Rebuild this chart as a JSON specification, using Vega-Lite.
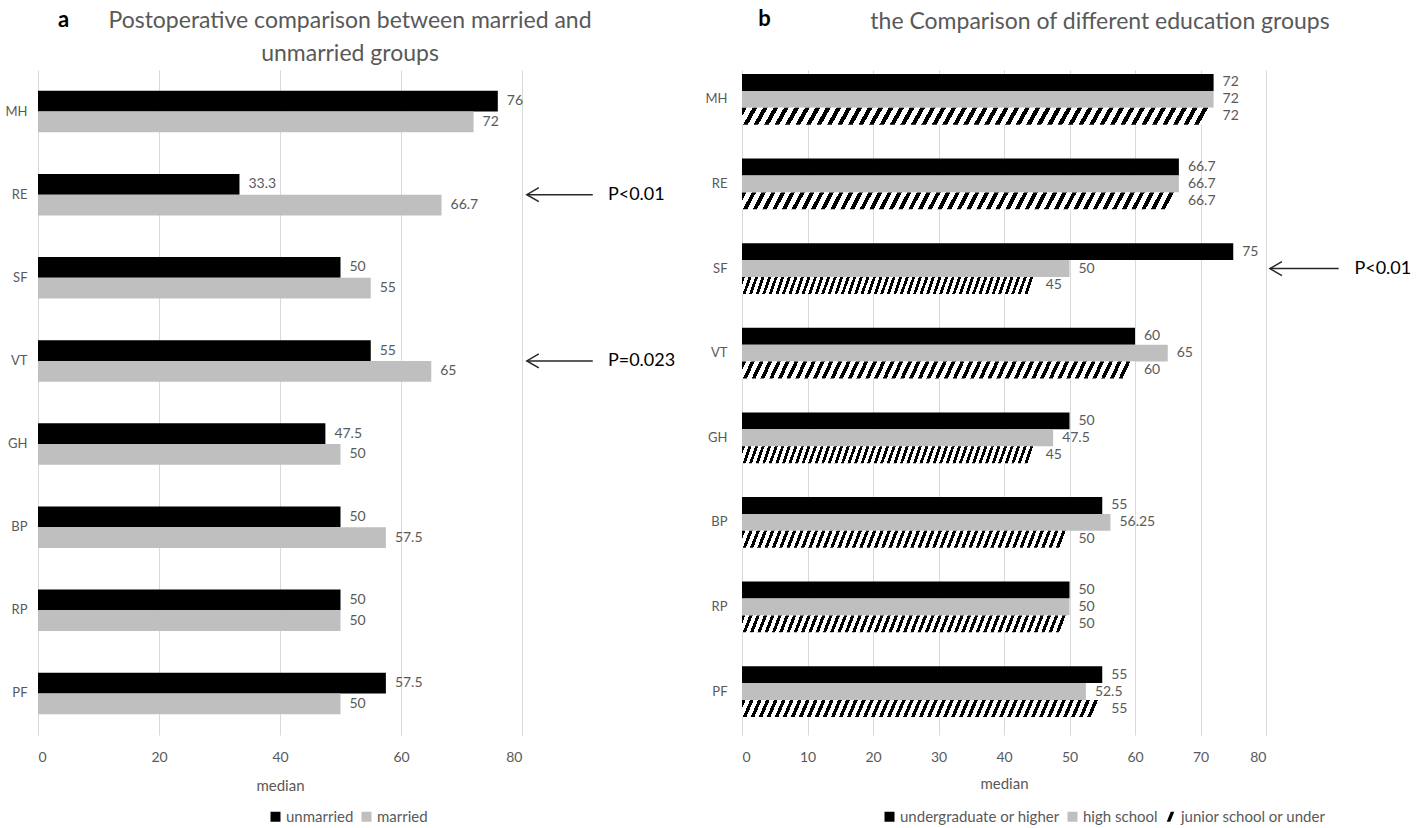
{
  "$schema": "https://vega.github.io/schema/vega-lite/v6.json",
  "background": "white",
  "padding": {"left": 5, "top": 7, "right": 0, "bottom": 0},
  "spacing": 29,
  "resolve": {"scale": {"color": "independent", "shape": "independent"}},
  "config": {
    "font": "Lato",
    "view": {"stroke": null},
    "axis": {"domain": false, "ticks": false, "labelColor": "#595959", "labelFontSize": 14, "titleColor": "#595959", "titleFontWeight": "normal", "gridColor": "#d9d9d9", "gridWidth": 1},
    "title": {"color": "#595959", "fontSize": 23, "fontWeight": "normal", "lineHeight": 33},
    "legend": {"symbolType": "square", "symbolSize": 100, "labelFontSize": 15, "labelColor": "#595959", "columnPadding": 5, "symbolStrokeWidth": 0, "labelOffset": 3}
  },
  "hconcat": [
    {
      "width": 484,
      "height": 665,
      "title": {"text": ["Postoperative comparison between married and", "unmarried groups"], "anchor": "middle", "frame": "group", "dx": 70, "offset": -58},
      "data": {"values": [
        {"metric": "MH", "group": "unmarried", "row": "MH|a", "value": 76},
        {"metric": "MH", "group": "married", "row": "MH|b", "value": 72},
        {"metric": "RE", "group": "unmarried", "row": "RE|a", "value": 33.3},
        {"metric": "RE", "group": "married", "row": "RE|b", "value": 66.7},
        {"metric": "SF", "group": "unmarried", "row": "SF|a", "value": 50},
        {"metric": "SF", "group": "married", "row": "SF|b", "value": 55},
        {"metric": "VT", "group": "unmarried", "row": "VT|a", "value": 55},
        {"metric": "VT", "group": "married", "row": "VT|b", "value": 65},
        {"metric": "GH", "group": "unmarried", "row": "GH|a", "value": 47.5},
        {"metric": "GH", "group": "married", "row": "GH|b", "value": 50},
        {"metric": "BP", "group": "unmarried", "row": "BP|a", "value": 50},
        {"metric": "BP", "group": "married", "row": "BP|b", "value": 57.5},
        {"metric": "RP", "group": "unmarried", "row": "RP|a", "value": 50},
        {"metric": "RP", "group": "married", "row": "RP|b", "value": 50},
        {"metric": "PF", "group": "unmarried", "row": "PF|a", "value": 57.5},
        {"metric": "PF", "group": "married", "row": "PF|b", "value": 50}
      ]},
      "layer": [
        {
          "mark": {"type": "bar", "height": {"band": 1}},
          "encoding": {
            "y": {"field": "row", "type": "nominal",
                  "scale": {"domain": ["MH|s1", "MH|a", "MH|b", "MH|s2", "RE|s1", "RE|a", "RE|b", "RE|s2", "SF|s1", "SF|a", "SF|b", "SF|s2", "VT|s1", "VT|a", "VT|b", "VT|s2", "GH|s1", "GH|a", "GH|b", "GH|s2", "BP|s1", "BP|a", "BP|b", "BP|s2", "RP|s1", "RP|a", "RP|b", "RP|s2", "PF|s1", "PF|a", "PF|b", "PF|s2"], "paddingInner": 0, "paddingOuter": 0},
                  "axis": {"title": "a", "titleAngle": 0, "titleX": 25, "titleY": -51, "titleAlign": "center", "titleBaseline": "middle", "titleFontSize": 22, "titleFontWeight": "bold", "titleColor": "#000000", "labelPadding": 11, "labelFontSize": 13, "labelOffset": 10.4, "labelExpr": "indexof(datum.value, '|a') > 0 ? split(datum.value, '|')[0] : ''", "grid": false}},
            "x": {"field": "value", "type": "quantitative", "scale": {"domain": [0, 80], "nice": false},
                  "axis": {"values": [0, 20, 40, 60, 80], "title": "median", "titleFontSize": 15, "labelPadding": 15, "titlePadding": 14, "grid": true}},
            "color": {"field": "group", "type": "nominal",
                      "scale": {"domain": ["unmarried", "married"], "range": ["#000000", "#bfbfbf"]},
                      "legend": {"title": null, "orient": "none", "legendX": 230, "legendY": 739, "direction": "horizontal"}}
          }
        },
        {
          "mark": {"type": "text", "align": "left", "baseline": "middle", "dx": 9, "fontSize": 14, "color": "#595959"},
          "encoding": {
            "y": {"field": "row", "type": "nominal"},
            "x": {"field": "value", "type": "quantitative"},
            "text": {"field": "value", "type": "quantitative", "format": "~g"}
          }
        },
        {
          "data": {"values": [
            {"row": "RE|a", "x1": 80.8, "x2": 91.7, "xt": 94.2, "p": "P<0.01"},
            {"row": "VT|a", "x1": 80.8, "x2": 91.7, "xt": 94.2, "p": "P=0.023"}
          ]},
          "layer": [
            {"mark": {"type": "rule", "color": "#262626", "strokeWidth": 1.5},
             "encoding": {"x": {"field": "x1", "type": "quantitative"}, "x2": {"field": "x2"}, "y": {"field": "row", "type": "nominal", "bandPosition": 1}}},
            {"mark": {"type": "point", "shape": "M1.2,-0.7L0,0L1.2,0.7", "size": 400, "filled": false, "color": "#262626", "strokeWidth": 1.5, "opacity": 1},
             "encoding": {"x": {"field": "x1", "type": "quantitative"}, "y": {"field": "row", "type": "nominal", "bandPosition": 1}}},
            {"mark": {"type": "text", "align": "left", "baseline": "middle", "fontSize": 18, "color": "#000000"},
             "encoding": {"x": {"field": "xt", "type": "quantitative"}, "y": {"field": "row", "type": "nominal", "bandPosition": 1}, "text": {"field": "p"}}}
          ]
        }
      ]
    },
    {
      "width": 524,
      "height": 665,
      "title": {"text": "the Comparison of different education groups", "anchor": "middle", "frame": "group", "dx": 96, "offset": -27},
      "data": {"values": [
        {"metric": "MH", "group": "undergraduate or higher", "row": "MH|a", "value": 72},
        {"metric": "MH", "group": "high school", "row": "MH|b", "value": 72},
        {"metric": "MH", "group": "junior school or under", "row": "MH|c", "value": 72},
        {"metric": "RE", "group": "undergraduate or higher", "row": "RE|a", "value": 66.7},
        {"metric": "RE", "group": "high school", "row": "RE|b", "value": 66.7},
        {"metric": "RE", "group": "junior school or under", "row": "RE|c", "value": 66.7},
        {"metric": "SF", "group": "undergraduate or higher", "row": "SF|a", "value": 75},
        {"metric": "SF", "group": "high school", "row": "SF|b", "value": 50},
        {"metric": "SF", "group": "junior school or under", "row": "SF|c", "value": 45},
        {"metric": "VT", "group": "undergraduate or higher", "row": "VT|a", "value": 60},
        {"metric": "VT", "group": "high school", "row": "VT|b", "value": 65},
        {"metric": "VT", "group": "junior school or under", "row": "VT|c", "value": 60},
        {"metric": "GH", "group": "undergraduate or higher", "row": "GH|a", "value": 50},
        {"metric": "GH", "group": "high school", "row": "GH|b", "value": 47.5},
        {"metric": "GH", "group": "junior school or under", "row": "GH|c", "value": 45},
        {"metric": "BP", "group": "undergraduate or higher", "row": "BP|a", "value": 55},
        {"metric": "BP", "group": "high school", "row": "BP|b", "value": 56.25},
        {"metric": "BP", "group": "junior school or under", "row": "BP|c", "value": 50},
        {"metric": "RP", "group": "undergraduate or higher", "row": "RP|a", "value": 50},
        {"metric": "RP", "group": "high school", "row": "RP|b", "value": 50},
        {"metric": "RP", "group": "junior school or under", "row": "RP|c", "value": 50},
        {"metric": "PF", "group": "undergraduate or higher", "row": "PF|a", "value": 55},
        {"metric": "PF", "group": "high school", "row": "PF|b", "value": 52.5},
        {"metric": "PF", "group": "junior school or under", "row": "PF|c", "value": 55}
      ]},
      "layer": [
        {
          "mark": {"type": "point", "filled": true, "opacity": 0},
          "encoding": {
            "y": {"field": "row", "type": "nominal",
                  "scale": {"domain": ["MH|a", "MH|b", "MH|c", "MH|s1", "MH|s2", "RE|a", "RE|b", "RE|c", "RE|s1", "RE|s2", "SF|a", "SF|b", "SF|c", "SF|s1", "SF|s2", "VT|a", "VT|b", "VT|c", "VT|s1", "VT|s2", "GH|a", "GH|b", "GH|c", "GH|s1", "GH|s2", "BP|a", "BP|b", "BP|c", "BP|s1", "BP|s2", "RP|a", "RP|b", "RP|c", "RP|s1", "RP|s2", "PF|a", "PF|b", "PF|c"], "paddingInner": 0, "paddingOuter": 0.65, "align": 0.18},
                  "axis": {"title": "b", "titleAngle": 0, "titleX": 22, "titleY": -52, "titleAlign": "center", "titleBaseline": "middle", "titleFontSize": 22, "titleFontWeight": "bold", "titleColor": "#000000", "labelPadding": 15, "labelFontSize": 13, "labelExpr": "indexof(datum.value, '|b') > 0 ? split(datum.value, '|')[0] : ''", "grid": false}},
            "x": {"field": "value", "type": "quantitative", "scale": {"domain": [0, 80], "nice": false},
                  "axis": {"values": [0, 10, 20, 30, 40, 50, 60, 70, 80], "title": "median", "titleFontSize": 15, "labelPadding": 15, "titlePadding": 12, "grid": true}},
            "color": {"field": "group", "type": "nominal",
                      "scale": {"domain": ["undergraduate or higher", "high school", "junior school or under"], "range": ["#000000", "#bfbfbf", "#000000"]},
                      "legend": {"title": null, "orient": "none", "legendX": 140, "legendY": 739, "direction": "horizontal", "symbolOpacity": 1}},
            "shape": {"field": "group", "type": "nominal",
                      "scale": {"domain": ["undergraduate or higher", "high school", "junior school or under"], "range": ["square", "square", "M-0.75,1L0.05,-1L0.75,-1L-0.05,1Z"]},
                      "legend": {"title": null, "orient": "none", "legendX": 140, "legendY": 739, "direction": "horizontal", "symbolOpacity": 1}}
          }
        },
        {
          "transform": [{"filter": "datum.group === 'undergraduate or higher'"}],
          "mark": {"type": "bar", "height": {"band": 1}, "color": "#000000"},
          "encoding": {
            "y": {"field": "row", "type": "nominal"},
            "x": {"field": "value", "type": "quantitative"}
          }
        },
        {
          "transform": [{"filter": "datum.group === 'high school'"}],
          "mark": {"type": "bar", "height": {"band": 1}, "color": "#bfbfbf"},
          "encoding": {
            "y": {"field": "row", "type": "nominal"},
            "x": {"field": "value", "type": "quantitative"}
          }
        },
        {
          "transform": [{"filter": "datum.group === 'junior school or under'"}],
          "mark": {"type": "bar", "height": {"band": 1},
                   "fill": {"gradient": "linear", "x1": 0, "y1": 0, "x2": 1, "y2": 0.02, "stops": [
                                    {"offset": 0, "color": "#000"}, {"offset": 0.01, "color": "#000"}, {"offset": 0.01, "color": "#fff"}, {"offset": 0.0222, "color": "#fff"},
                                    {"offset": 0.0222, "color": "#000"}, {"offset": 0.0322, "color": "#000"}, {"offset": 0.0322, "color": "#fff"}, {"offset": 0.0444, "color": "#fff"},
                                    {"offset": 0.0444, "color": "#000"}, {"offset": 0.0544, "color": "#000"}, {"offset": 0.0544, "color": "#fff"}, {"offset": 0.0667, "color": "#fff"},
                                    {"offset": 0.0667, "color": "#000"}, {"offset": 0.0767, "color": "#000"}, {"offset": 0.0767, "color": "#fff"}, {"offset": 0.0889, "color": "#fff"},
                                    {"offset": 0.0889, "color": "#000"}, {"offset": 0.0989, "color": "#000"}, {"offset": 0.0989, "color": "#fff"}, {"offset": 0.1111, "color": "#fff"},
                                    {"offset": 0.1111, "color": "#000"}, {"offset": 0.1211, "color": "#000"}, {"offset": 0.1211, "color": "#fff"}, {"offset": 0.1333, "color": "#fff"},
                                    {"offset": 0.1333, "color": "#000"}, {"offset": 0.1433, "color": "#000"}, {"offset": 0.1433, "color": "#fff"}, {"offset": 0.1556, "color": "#fff"},
                                    {"offset": 0.1556, "color": "#000"}, {"offset": 0.1656, "color": "#000"}, {"offset": 0.1656, "color": "#fff"}, {"offset": 0.1778, "color": "#fff"},
                                    {"offset": 0.1778, "color": "#000"}, {"offset": 0.1878, "color": "#000"}, {"offset": 0.1878, "color": "#fff"}, {"offset": 0.2, "color": "#fff"},
                                    {"offset": 0.2, "color": "#000"}, {"offset": 0.21, "color": "#000"}, {"offset": 0.21, "color": "#fff"}, {"offset": 0.2222, "color": "#fff"},
                                    {"offset": 0.2222, "color": "#000"}, {"offset": 0.2322, "color": "#000"}, {"offset": 0.2322, "color": "#fff"}, {"offset": 0.2444, "color": "#fff"},
                                    {"offset": 0.2444, "color": "#000"}, {"offset": 0.2544, "color": "#000"}, {"offset": 0.2544, "color": "#fff"}, {"offset": 0.2667, "color": "#fff"},
                                    {"offset": 0.2667, "color": "#000"}, {"offset": 0.2767, "color": "#000"}, {"offset": 0.2767, "color": "#fff"}, {"offset": 0.2889, "color": "#fff"},
                                    {"offset": 0.2889, "color": "#000"}, {"offset": 0.2989, "color": "#000"}, {"offset": 0.2989, "color": "#fff"}, {"offset": 0.3111, "color": "#fff"},
                                    {"offset": 0.3111, "color": "#000"}, {"offset": 0.3211, "color": "#000"}, {"offset": 0.3211, "color": "#fff"}, {"offset": 0.3333, "color": "#fff"},
                                    {"offset": 0.3333, "color": "#000"}, {"offset": 0.3433, "color": "#000"}, {"offset": 0.3433, "color": "#fff"}, {"offset": 0.3556, "color": "#fff"},
                                    {"offset": 0.3556, "color": "#000"}, {"offset": 0.3656, "color": "#000"}, {"offset": 0.3656, "color": "#fff"}, {"offset": 0.3778, "color": "#fff"},
                                    {"offset": 0.3778, "color": "#000"}, {"offset": 0.3878, "color": "#000"}, {"offset": 0.3878, "color": "#fff"}, {"offset": 0.4, "color": "#fff"},
                                    {"offset": 0.4, "color": "#000"}, {"offset": 0.41, "color": "#000"}, {"offset": 0.41, "color": "#fff"}, {"offset": 0.4222, "color": "#fff"},
                                    {"offset": 0.4222, "color": "#000"}, {"offset": 0.4322, "color": "#000"}, {"offset": 0.4322, "color": "#fff"}, {"offset": 0.4444, "color": "#fff"},
                                    {"offset": 0.4444, "color": "#000"}, {"offset": 0.4544, "color": "#000"}, {"offset": 0.4544, "color": "#fff"}, {"offset": 0.4667, "color": "#fff"},
                                    {"offset": 0.4667, "color": "#000"}, {"offset": 0.4767, "color": "#000"}, {"offset": 0.4767, "color": "#fff"}, {"offset": 0.4889, "color": "#fff"},
                                    {"offset": 0.4889, "color": "#000"}, {"offset": 0.4989, "color": "#000"}, {"offset": 0.4989, "color": "#fff"}, {"offset": 0.5111, "color": "#fff"},
                                    {"offset": 0.5111, "color": "#000"}, {"offset": 0.5211, "color": "#000"}, {"offset": 0.5211, "color": "#fff"}, {"offset": 0.5333, "color": "#fff"},
                                    {"offset": 0.5333, "color": "#000"}, {"offset": 0.5433, "color": "#000"}, {"offset": 0.5433, "color": "#fff"}, {"offset": 0.5556, "color": "#fff"},
                                    {"offset": 0.5556, "color": "#000"}, {"offset": 0.5656, "color": "#000"}, {"offset": 0.5656, "color": "#fff"}, {"offset": 0.5778, "color": "#fff"},
                                    {"offset": 0.5778, "color": "#000"}, {"offset": 0.5878, "color": "#000"}, {"offset": 0.5878, "color": "#fff"}, {"offset": 0.6, "color": "#fff"},
                                    {"offset": 0.6, "color": "#000"}, {"offset": 0.61, "color": "#000"}, {"offset": 0.61, "color": "#fff"}, {"offset": 0.6222, "color": "#fff"},
                                    {"offset": 0.6222, "color": "#000"}, {"offset": 0.6322, "color": "#000"}, {"offset": 0.6322, "color": "#fff"}, {"offset": 0.6444, "color": "#fff"},
                                    {"offset": 0.6444, "color": "#000"}, {"offset": 0.6544, "color": "#000"}, {"offset": 0.6544, "color": "#fff"}, {"offset": 0.6667, "color": "#fff"},
                                    {"offset": 0.6667, "color": "#000"}, {"offset": 0.6767, "color": "#000"}, {"offset": 0.6767, "color": "#fff"}, {"offset": 0.6889, "color": "#fff"},
                                    {"offset": 0.6889, "color": "#000"}, {"offset": 0.6989, "color": "#000"}, {"offset": 0.6989, "color": "#fff"}, {"offset": 0.7111, "color": "#fff"},
                                    {"offset": 0.7111, "color": "#000"}, {"offset": 0.7211, "color": "#000"}, {"offset": 0.7211, "color": "#fff"}, {"offset": 0.7333, "color": "#fff"},
                                    {"offset": 0.7333, "color": "#000"}, {"offset": 0.7433, "color": "#000"}, {"offset": 0.7433, "color": "#fff"}, {"offset": 0.7556, "color": "#fff"},
                                    {"offset": 0.7556, "color": "#000"}, {"offset": 0.7656, "color": "#000"}, {"offset": 0.7656, "color": "#fff"}, {"offset": 0.7778, "color": "#fff"},
                                    {"offset": 0.7778, "color": "#000"}, {"offset": 0.7878, "color": "#000"}, {"offset": 0.7878, "color": "#fff"}, {"offset": 0.8, "color": "#fff"},
                                    {"offset": 0.8, "color": "#000"}, {"offset": 0.81, "color": "#000"}, {"offset": 0.81, "color": "#fff"}, {"offset": 0.8222, "color": "#fff"},
                                    {"offset": 0.8222, "color": "#000"}, {"offset": 0.8322, "color": "#000"}, {"offset": 0.8322, "color": "#fff"}, {"offset": 0.8444, "color": "#fff"},
                                    {"offset": 0.8444, "color": "#000"}, {"offset": 0.8544, "color": "#000"}, {"offset": 0.8544, "color": "#fff"}, {"offset": 0.8667, "color": "#fff"},
                                    {"offset": 0.8667, "color": "#000"}, {"offset": 0.8767, "color": "#000"}, {"offset": 0.8767, "color": "#fff"}, {"offset": 0.8889, "color": "#fff"},
                                    {"offset": 0.8889, "color": "#000"}, {"offset": 0.8989, "color": "#000"}, {"offset": 0.8989, "color": "#fff"}, {"offset": 0.9111, "color": "#fff"},
                                    {"offset": 0.9111, "color": "#000"}, {"offset": 0.9211, "color": "#000"}, {"offset": 0.9211, "color": "#fff"}, {"offset": 0.9333, "color": "#fff"},
                                    {"offset": 0.9333, "color": "#000"}, {"offset": 0.9433, "color": "#000"}, {"offset": 0.9433, "color": "#fff"}, {"offset": 0.9556, "color": "#fff"},
                                    {"offset": 0.9556, "color": "#000"}, {"offset": 0.9656, "color": "#000"}, {"offset": 0.9656, "color": "#fff"}, {"offset": 0.9778, "color": "#fff"},
                                    {"offset": 0.9778, "color": "#000"}, {"offset": 0.9878, "color": "#000"}, {"offset": 0.9878, "color": "#fff"}, {"offset": 1, "color": "#fff"}
                   ]}},
          "encoding": {
            "y": {"field": "row", "type": "nominal"},
            "x": {"field": "value", "type": "quantitative"}
          }
        },
        {
          "mark": {"type": "text", "align": "left", "baseline": "middle", "dx": 9, "fontSize": 14, "color": "#595959"},
          "encoding": {
            "y": {"field": "row", "type": "nominal"},
            "x": {"field": "value", "type": "quantitative"},
            "text": {"field": "value", "type": "quantitative", "format": "~g"}
          }
        },
        {
          "data": {"values": [
            {"row": "SF|b", "x1": 80.6, "x2": 91.1, "xt": 93.5, "p": "P<0.01"}
          ]},
          "layer": [
            {"mark": {"type": "rule", "color": "#262626", "strokeWidth": 1.5},
             "encoding": {"x": {"field": "x1", "type": "quantitative"}, "x2": {"field": "x2"}, "y": {"field": "row", "type": "nominal"}}},
            {"mark": {"type": "point", "shape": "M1.2,-0.7L0,0L1.2,0.7", "size": 400, "filled": false, "color": "#262626", "strokeWidth": 1.5, "opacity": 1},
             "encoding": {"x": {"field": "x1", "type": "quantitative"}, "y": {"field": "row", "type": "nominal"}}},
            {"mark": {"type": "text", "align": "left", "baseline": "middle", "fontSize": 18, "color": "#000000"},
             "encoding": {"x": {"field": "xt", "type": "quantitative"}, "y": {"field": "row", "type": "nominal"}, "text": {"field": "p"}}}
          ]
        }
      ]
    }
  ]
}
